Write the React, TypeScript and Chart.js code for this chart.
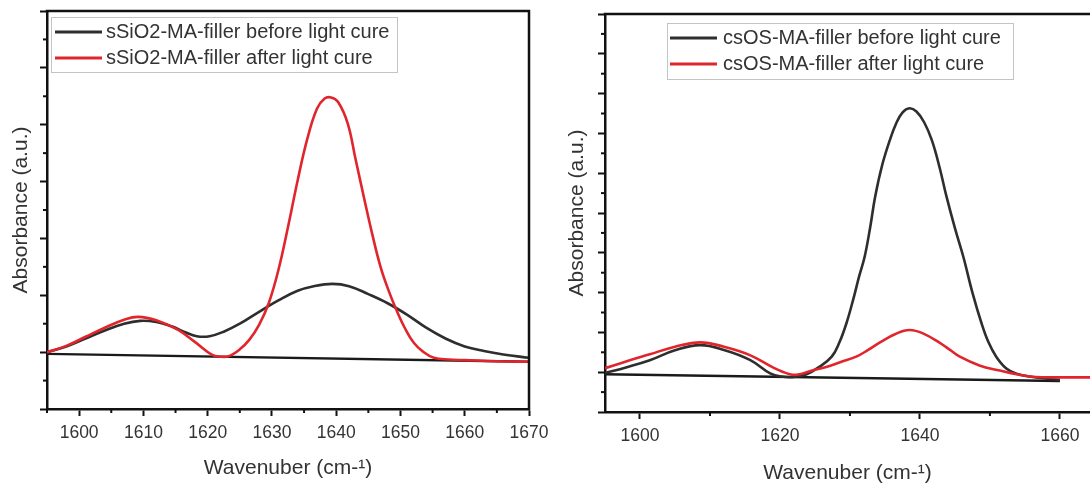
import React, { useEffect, useRef } from "react";
import { Chart, registerables } from "chart.js";

Chart.register(...registerables);

// ---------- Left panel: sSiO2-MA-filler ----------
const leftBeforeX = [1595, 1598, 1601, 1604, 1607, 1609.5, 1612, 1614.5, 1616.5, 1618.3, 1620.3, 1622.5, 1625, 1628, 1631, 1634, 1636.5, 1639.4, 1642, 1645, 1648, 1651, 1654, 1657, 1660, 1663, 1666, 1670];
const leftBeforeY = [0, 0.1, 0.24, 0.38, 0.5, 0.55, 0.53, 0.45, 0.35, 0.28, 0.28, 0.36, 0.5, 0.71, 0.91, 1.08, 1.16, 1.2, 1.16, 1.02, 0.86, 0.66, 0.43, 0.24, 0.1, 0.02, -0.04, -0.1];
const leftAfterX = [1595, 1598, 1601, 1604, 1607, 1609.2, 1612, 1615.4, 1618, 1620.7, 1622, 1623.3, 1625, 1626.5, 1628, 1629.5, 1631, 1632.5, 1634, 1635.5, 1637, 1638.2, 1639.2, 1640.3, 1641.8, 1643, 1644.3, 1645.6, 1646.9, 1648.1, 1649.3, 1650.7, 1652.1, 1653.6, 1655.2, 1657.5, 1660, 1665, 1670];
const leftAfterY = [0, 0.11, 0.27, 0.43, 0.57, 0.62, 0.56, 0.39, 0.18, -0.05, -0.08, -0.07, 0.05, 0.22, 0.48, 0.86, 1.44, 2.2, 3.02, 3.75, 4.28, 4.46, 4.48, 4.4, 4.02, 3.4, 2.73, 2.08, 1.5, 1.1, 0.76, 0.42, 0.16, 0.0, -0.1, -0.13, -0.14, -0.16, -0.17];
const leftBaselineX = [1595, 1670];
const leftBaselineY = [-0.03, -0.17];
const leftLabels = ["sSiO2-MA-filler before light cure", "sSiO2-MA-filler after light cure"];
const leftXTicks = [1600, 1610, 1620, 1630, 1640, 1650, 1660, 1670];

// ---------- Right panel: csOS-MA-filler ----------
const rightBeforeX = [1595, 1598, 1601.4, 1605, 1608.6, 1612, 1615.7, 1618.6, 1620.2, 1622, 1623.8, 1625.5, 1627.4, 1628.5, 1629.5, 1630.5, 1631.3, 1632.1, 1632.9, 1633.6, 1634.6, 1635.7, 1636.6, 1637.5, 1638.5, 1639.5, 1640.6, 1641.7, 1642.8, 1643.8, 1645, 1646.2, 1647.5, 1648.8, 1649.8, 1650.9, 1652.3, 1653.8, 1656.1, 1660];
const rightBeforeY = [-0.02, 0.12, 0.3, 0.55, 0.68, 0.56, 0.31, -0.03, -0.11, -0.12, -0.05, 0.12, 0.39, 0.75, 1.23, 1.85, 2.4, 2.9, 3.65, 4.41, 5.2, 5.83, 6.25, 6.52, 6.63, 6.55, 6.28, 5.83, 5.15, 4.41, 3.62, 2.9, 2.0, 1.23, 0.75, 0.39, 0.1, -0.04, -0.12, -0.2];
const rightAfterX = [1595, 1598, 1601.4, 1605, 1608.6, 1612, 1615.7, 1619, 1621.4, 1622.6, 1624.6, 1626.6, 1628.6, 1630.9, 1632.6, 1634.3, 1636.5, 1638.5, 1640.5, 1642.9, 1644.3, 1645.7, 1648.5, 1651.4, 1654, 1656.5, 1660, 1664.3];
const rightAfterY = [0.1, 0.27, 0.45, 0.64, 0.75, 0.64, 0.43, 0.12, -0.05, -0.06, 0.04, 0.13, 0.25, 0.39, 0.56, 0.75, 0.96, 1.06, 0.97, 0.73, 0.56, 0.39, 0.17, 0.04, -0.06, -0.12, -0.13, -0.13];
const rightBaselineX = [1595, 1660];
const rightBaselineY = [-0.05, -0.22];
const rightLabels = ["csOS-MA-filler before light cure", "csOS-MA-filler after light cure"];
const rightXTicks = [1600, 1620, 1640, 1660];

const Y_TITLE = "Absorbance (a.u.)";
const X_TITLE = "Wavenuber (cm-\u00B9)";

const FONT = "'Liberation Sans', Arial, sans-serif";
const TEXT = "#333333";
const BLACK = "#2e2e2e";
const RED = "#e0262c";

function pts(xs: number[], ys: number[]) {
  return xs.map((x, i) => ({ x, y: ys[i] }));
}

const framePlugin = {
  id: "frame",
  afterDraw(chart: any, _a: any, o: any) {
    const { ctx, chartArea } = chart;
    const { left, right, top, bottom } = chartArea;
    ctx.save();
    ctx.strokeStyle = "#111";
    ctx.lineWidth = o.width;
    ctx.lineCap = "square";
    ctx.beginPath();
    ctx.moveTo(left, top);
    ctx.lineTo(right, top);
    if (o.right) ctx.lineTo(right, bottom);
    ctx.stroke();
    ctx.restore();
  },
};

const minorTicksPlugin = {
  id: "minorTicks",
  afterDraw(chart: any, _a: any, o: any) {
    const { ctx, chartArea, scales } = chart;
    ctx.save();
    ctx.strokeStyle = "#111";
    ctx.lineWidth = 2;
    const xs = scales.x;
    for (let v = Math.ceil(xs.min / o.xStep) * o.xStep; v <= xs.max + 1e-9; v += o.xStep) {
      if (Math.abs(v / o.xMajor - Math.round(v / o.xMajor)) < 1e-6) continue;
      const px = xs.getPixelForValue(v);
      ctx.beginPath();
      ctx.moveTo(px, chartArea.bottom);
      ctx.lineTo(px, chartArea.bottom + o.len);
      ctx.stroke();
    }
    const ys = scales.y;
    for (let v = Math.ceil(ys.min / o.yStep) * o.yStep; v <= ys.max + 1e-9; v += o.yStep) {
      if (Math.abs(v / o.yMajor - Math.round(v / o.yMajor)) < 1e-6) continue;
      const py = ys.getPixelForValue(v);
      ctx.beginPath();
      ctx.moveTo(chartArea.left, py);
      ctx.lineTo(chartArea.left - o.len, py);
      ctx.stroke();
    }
    ctx.restore();
  },
};

const boxLegendPlugin = {
  id: "boxLegend",
  afterDraw(chart: any, _a: any, o: any) {
    const { ctx } = chart;
    const items = chart.data.datasets.filter((d: any) => d.label);
    ctx.save();
    ctx.fillStyle = "#ffffff";
    ctx.fillRect(o.left, o.top, o.width, o.height);
    ctx.strokeStyle = "#c4c4c4";
    ctx.lineWidth = 1;
    ctx.strokeRect(o.left + 0.5, o.top + 0.5, o.width, o.height);
    ctx.font = `20px ${FONT}`;
    ctx.textBaseline = "middle";
    ctx.textAlign = "left";
    items.forEach((d: any, i: number) => {
      const y = o.firstRowY + i * o.rowGap;
      ctx.strokeStyle = d.borderColor;
      ctx.lineWidth = 3;
      ctx.beginPath();
      ctx.moveTo(o.lineX, y);
      ctx.lineTo(o.lineX + o.lineLen, y);
      ctx.stroke();
      ctx.fillStyle = TEXT;
      ctx.fillText(d.label, o.textX, y);
    });
    ctx.restore();
  },
};

type PanelParams = {
  before: any;
  after: any;
  baseline: any;
  labels: string[];
  xMin: number;
  xMax: number;
  xMajor: number;
  xMinor: number;
  xTickValues: number[];
  yMin: number;
  yMax: number;
  padding: any;
  yWidth: number;
  xHeight: number;
  yTitlePad: number;
  xTitlePad: number;
  frameRight: boolean;
  legend: any;
};

function makeConfig(p: PanelParams): any {
  return {
    type: "line",
    data: {
      datasets: [
        { label: p.labels[0], data: p.before, borderColor: BLACK, borderWidth: 2.6, pointRadius: 0, tension: 0.4, order: 1 },
        { label: p.labels[1], data: p.after, borderColor: RED, borderWidth: 2.6, pointRadius: 0, tension: 0.4, order: 0 },
        { label: "", data: p.baseline, borderColor: "#1a1a1a", borderWidth: 2.4, pointRadius: 0, tension: 0, order: 2 },
      ],
    },
    options: {
      responsive: false,
      animation: false,
      devicePixelRatio: 1,
      layout: { padding: p.padding },
      plugins: {
        legend: { display: false },
        tooltip: { enabled: false },
        frame: { width: 2.5, right: p.frameRight },
        minorTicks: { xStep: p.xMinor, xMajor: p.xMajor, yStep: 0.5, yMajor: 1, len: 4 },
        boxLegend: p.legend,
      },
      scales: {
        x: {
          type: "linear",
          min: p.xMin,
          max: p.xMax,
          afterFit: (s: any) => { s.height = p.xHeight; },
          afterBuildTicks: (s: any) => { s.ticks = p.xTickValues.filter((v) => v >= p.xMin && v <= p.xMax).map((v) => ({ value: v })); },
          ticks: {
            autoSkip: false,
            maxRotation: 0,
            padding: 7,
            color: TEXT,
            font: { family: FONT, size: 17.5 },
            callback: (v: any) => String(v),
          },
          grid: { drawOnChartArea: false, drawTicks: true, tickLength: 7, tickWidth: 2, tickColor: "#111" },
          border: { display: true, color: "#111", width: 2.5 },
          title: { display: true, text: X_TITLE, color: TEXT, font: { family: FONT, size: 21 }, padding: { top: 0, bottom: p.xTitlePad } },
        },
        y: {
          type: "linear",
          min: p.yMin,
          max: p.yMax,
          afterFit: (s: any) => { s.width = p.yWidth; },
          ticks: { stepSize: 1, display: false, includeBounds: false },
          grid: { drawOnChartArea: false, drawTicks: true, tickLength: 7, tickWidth: 2, tickColor: "#111" },
          border: { display: true, color: "#111", width: 2.5 },
          title: { display: true, text: Y_TITLE, color: TEXT, font: { family: FONT, size: 21 }, padding: { top: p.yTitlePad, bottom: 0 } },
        },
      },
    },
    plugins: [framePlugin, minorTicksPlugin, boxLegendPlugin],
  };
}

function Panel({ params, width, height, left }: { params: PanelParams; width: number; height: number; left: number }) {
  const ref = useRef<HTMLCanvasElement>(null);
  useEffect(() => {
    const chart = new Chart(ref.current as HTMLCanvasElement, makeConfig(params));
    return () => chart.destroy();
  }, []);
  return (
    <canvas
      ref={ref}
      width={width}
      height={height}
      style={{ position: "absolute", left, top: 0, width, height, display: "block" }}
    />
  );
}

const leftParams: PanelParams = {
  before: pts(leftBeforeX, leftBeforeY),
  after: pts(leftAfterX, leftAfterY),
  baseline: pts(leftBaselineX, leftBaselineY),
  labels: leftLabels,
  xMin: 1595,
  xMax: 1670,
  xMajor: 10,
  xMinor: 5,
  xTickValues: leftXTicks,
  yMin: -1,
  yMax: 6,
  padding: { left: 0, top: 11, right: 31, bottom: 0 },
  yWidth: 47,
  xHeight: 77,
  yTitlePad: 9,
  xTitlePad: 5,
  frameRight: true,
  legend: { left: 51, top: 17, width: 346, height: 55, firstRowY: 32, rowGap: 26, lineX: 55, lineLen: 47, textX: 106 },
};

const rightParams: PanelParams = {
  before: pts(rightBeforeX, rightBeforeY),
  after: pts(rightAfterX, rightAfterY),
  baseline: pts(rightBaselineX, rightBaselineY),
  labels: rightLabels,
  xMin: 1595,
  xMax: 1664.3,
  xMajor: 20,
  xMinor: 10,
  xTickValues: rightXTicks,
  yMin: -1,
  yMax: 9,
  padding: { left: 0, top: 14, right: 0, bottom: 0 },
  yWidth: 60,
  xHeight: 74,
  yTitlePad: 20,
  xTitlePad: 0,
  frameRight: false,
  legend: { left: 122, top: 23, width: 346, height: 56, firstRowY: 38, rowGap: 26, lineX: 125, lineLen: 47, textX: 178 },
};

export default function App() {
  return (
    <div style={{ position: "absolute", left: 0, top: 0, width: 1090, height: 486, overflow: "hidden", background: "#ffffff" }}>
      <Panel params={leftParams} width={560} height={486} left={0} />
      <Panel params={rightParams} width={545} height={486} left={545} />
    </div>
  );
}
